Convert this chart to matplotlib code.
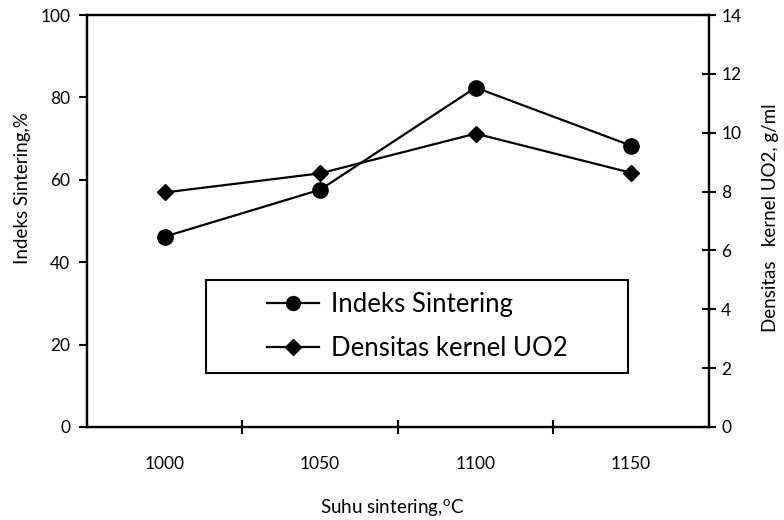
import matplotlib
matplotlib.use("Agg")
import matplotlib.pyplot as plt
from matplotlib.patches import Rectangle
from matplotlib.lines import Line2D

plt.rcParams['font.family'] = ['Lato', 'DejaVu Sans']
plt.rcParams['mathtext.fontset'] = 'custom'
plt.rcParams['mathtext.rm'] = 'Lato'

# data
suhu = ['1000', '1050', '1100', '1150']
indeks = [46.2, 57.6, 82.4, 68.3]       # %
densitas = [7.97, 8.62, 9.97, 8.64]     # g/ml

pos = list(range(1, len(suhu) + 1))

fig = plt.figure(figsize=(7.84, 5.2), dpi=100)
ax = fig.add_axes([0.111, 0.179, 0.793, 0.792])
ax2 = ax.twinx()

ax.plot(pos, indeks, color='black', lw=1.6, marker='o', ms=11, zorder=3)
ax2.plot(pos, densitas, color='black', lw=1.6, marker='D', ms=8.5, zorder=3)

ax.set_xlim(0.5, len(suhu) + 0.5)
ax.set_ylim(0, 100)
ax2.set_ylim(0, 14)
ax.set_yticks(range(0, 101, 20))
ax2.set_yticks(range(0, 15, 2))

# ticks between categories, labels at centres
ax.set_xticks([p + 0.5 for p in pos[:-1]])
ax.set_xticklabels([])
ax.set_xticks(pos, minor=True)
ax.set_xticklabels(suhu, minor=True)
ax.tick_params(axis='x', which='minor', length=0, pad=21, labelsize=12.5)
ax.tick_params(axis='x', which='major', direction='inout', length=10, width=1.5)
ax.tick_params(axis='y', direction='out', length=6, width=1.5, labelsize=12.5, pad=6)
ax2.tick_params(axis='y', direction='inout', length=10, width=1.5, labelsize=12.5, pad=4)

for a in (ax, ax2):
    for s in a.spines.values():
        s.set_linewidth(1.6)

ax.set_xlabel(r'Suhu sintering,$^{\mathregular{o}}$C', fontsize=13.5)
ax.set_ylabel('Indeks Sintering,%', fontsize=13.5)
ax2.set_ylabel('Densitas   kernel UO2, g/ml', fontsize=13.5)
ax.xaxis.set_label_coords(0.49, -0.17)
ax.yaxis.set_label_coords(-0.09, 0.58)
ax2.yaxis.set_label_coords(1.085, 0.507)

# legend box
ax2.add_patch(Rectangle((0.192, 0.131), 0.678, 0.225, transform=ax2.transAxes,
                        facecolor='white', edgecolor='black', lw=1.5, zorder=4))
handles = [Line2D([], [], color='black', lw=1.6, marker='o', ms=10),
           Line2D([], [], color='black', lw=1.6, marker='D', ms=8)]
leg = ax2.legend(handles, ['Indeks Sintering', 'Densitas kernel UO2'],
                 loc='center', bbox_to_anchor=(0.531, 0.2435),
                 bbox_transform=ax2.transAxes, frameon=False, fontsize=18.5,
                 handlelength=2.05, handletextpad=0.45, labelspacing=0.75)
leg.set_zorder(5)

fig.savefig('out.png', dpi=100)
